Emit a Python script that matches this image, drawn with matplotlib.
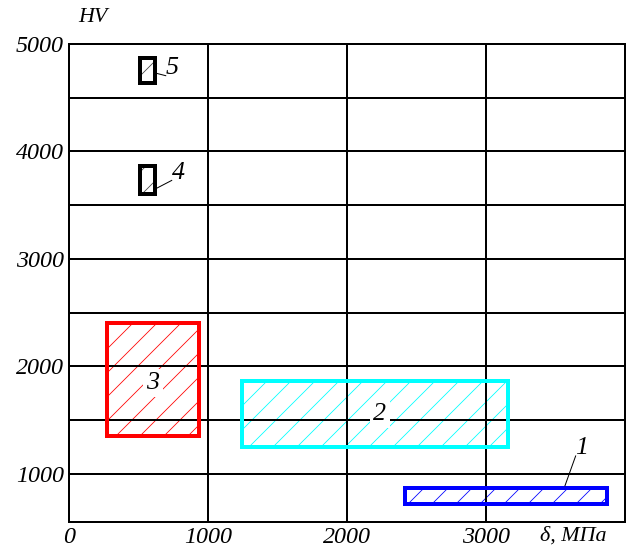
import matplotlib
matplotlib.use("Agg")
import matplotlib.pyplot as plt
import matplotlib.patches as patches

# zones: (x0, x1, y0, y1) in MPa / HV
zone_names = ["1", "2", "3", "4", "5"]
zone_x0 = [2420, 1245, 270, 510, 510]
zone_x1 = [3870, 3158, 935, 620, 620]
zone_y0 = [720, 1250, 1350, 3600, 4640]
zone_y1 = [870, 1860, 2400, 3860, 4870]
zone_colors = ["#0000ff", "#00ffff", "#ff0000", "#000000", "#000000"]

# label positions and leader line ends (None = label inside, no leader)
label_x = [3690, 2237, 604, 784, 741]
label_y = [1235, 1554, 1845, 3800, 4775]
leader_to = [(3568, 887), None, None, (620, 3650), (620, 4730)]

x_ticks = [0, 1000, 2000, 3000]
y_ticks = [1000, 2000, 3000, 4000, 5000]
y_grid = [1000, 1500, 2000, 2500, 3000, 3500, 4000, 4500]
x_grid = [1000, 2000, 3000]

plt.rcParams["font.family"] = ["Liberation Serif", "DejaVu Serif"]
plt.rcParams["hatch.linewidth"] = 0.8

fig = plt.figure(figsize=(633 / 72, 548 / 72), dpi=72)
ax = fig.add_axes([69 / 633, 1 - 522 / 548, 556 / 633, 478 / 548])
ax.set_xlim(0, 4000)
ax.set_ylim(550, 5000)

# hatching first, then grid, then borders
for i in range(len(zone_names)):
    w = zone_x1[i] - zone_x0[i]
    h = zone_y1[i] - zone_y0[i]
    hcol = zone_colors[i] if zone_colors[i] != "#000000" else "#444444"
    ax.add_patch(patches.Rectangle((zone_x0[i], zone_y0[i]), w, h, facecolor="none",
                                   edgecolor=hcol, hatch="/", linewidth=0, zorder=1))

for gx in x_grid:
    ax.axvline(gx, color="black", lw=2, zorder=2)
for gy in y_grid:
    ax.axhline(gy, color="black", lw=2, zorder=2)

for i in range(len(zone_names)):
    w = zone_x1[i] - zone_x0[i]
    h = zone_y1[i] - zone_y0[i]
    ax.add_patch(patches.Rectangle((zone_x0[i], zone_y0[i]), w, h, facecolor="none",
                                   edgecolor=zone_colors[i], linewidth=4, zorder=3))
    if leader_to[i] is None:
        ax.text(label_x[i], label_y[i], zone_names[i], ha="center", va="center",
                fontsize=26, style="italic", zorder=4,
                bbox=dict(facecolor="white", edgecolor="none", pad=3))
    else:
        lx, ly = leader_to[i]
        ax.plot([lx, label_x[i] - 45], [ly, label_y[i] - 70], color="black", lw=1, zorder=4)
        ax.text(label_x[i], label_y[i], zone_names[i], ha="center", va="center",
                fontsize=26, style="italic", zorder=4)

for s in ax.spines.values():
    s.set_linewidth(2)
ax.set_xticks(x_ticks)
ax.set_yticks(y_ticks)
ax.tick_params(length=0, labelsize=24, pad=5)
for t in ax.get_xticklabels() + ax.get_yticklabels():
    t.set_style("italic")

fig.text(78 / 633, 1 - 18 / 548, "HV", fontsize=22, style="italic", ha="left", va="center")
fig.text(573 / 633, 1 - 536 / 548, "δ, МПа", fontsize=22, style="italic", ha="center", va="center")

fig.savefig("out.png", dpi=72)
